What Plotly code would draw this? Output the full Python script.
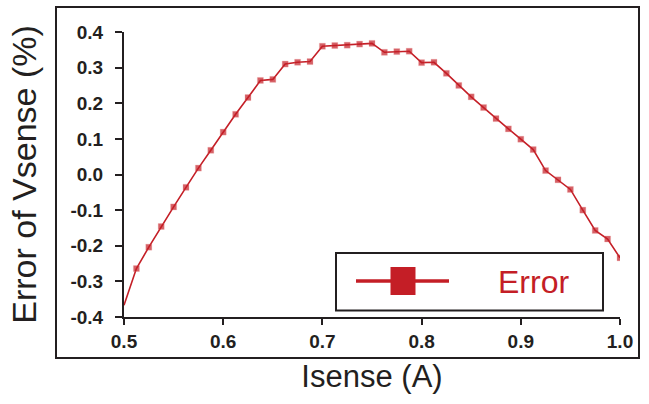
import plotly.graph_objects as go

isense = [0.5000, 0.5125, 0.5250, 0.5375, 0.5500, 0.5625, 0.5750, 0.5875,
          0.6000, 0.6125, 0.6250, 0.6375, 0.6500, 0.6625, 0.6750, 0.6875,
          0.7000, 0.7125, 0.7250, 0.7375, 0.7500, 0.7625, 0.7750, 0.7875,
          0.8000, 0.8125, 0.8250, 0.8375, 0.8500, 0.8625, 0.8750, 0.8875,
          0.9000, 0.9125, 0.9250, 0.9375, 0.9500, 0.9625, 0.9750, 0.9875,
          1.0000]
error_pct = [-0.367, -0.264, -0.204, -0.146, -0.091, -0.036, 0.018, 0.068,
             0.119, 0.169, 0.216, 0.264, 0.267, 0.310, 0.315, 0.317,
             0.360, 0.362, 0.363, 0.366, 0.368, 0.343, 0.345, 0.346,
             0.314, 0.315, 0.284, 0.250, 0.218, 0.188, 0.157, 0.128,
             0.099, 0.070, 0.011, -0.015, -0.042, -0.100, -0.157, -0.181,
             -0.234]
x_ticks = [0.5, 0.6, 0.7, 0.8, 0.9, 1.0]
x_tick_text = ["0.5", "0.6", "0.7", "0.8", "0.9", "1.0"]
y_ticks = [-0.4, -0.3, -0.2, -0.1, 0.0, 0.1, 0.2, 0.3, 0.4]
y_tick_text = ["-0.4", "-0.3", "-0.2", "-0.1", "0.0", "0.1", "0.2", "0.3", "0.4"]
series_name = "Error"

RED = "#C41E26"
INK = "#231F20"
FONT = "Liberation Sans, Arial, sans-serif"

W, H = 649, 404
ML, MR, MT, MB = 124, 29, 32, 87
PW, PH = W - ML - MR, H - MT - MB


def px(x):
    return (x - ML) / PW


def py(y):
    return (H - MB - y) / PH


sizes = [0] + [6] * (len(isense) - 1)

fig = go.Figure()
fig.add_trace(go.Scatter(
    x=isense, y=error_pct, mode="lines+markers", name=series_name,
    line=dict(color=RED, width=1.6),
    marker=dict(symbol="square", size=sizes, color=RED,
                line=dict(color="rgba(230,120,120,0.6)", width=0.5)),
    showlegend=False, cliponaxis=True,
))

shapes = [
    # outer frame
    dict(type="rect", xref="paper", yref="paper",
         x0=px(56), x1=px(639), y0=py(358), y1=py(7),
         line=dict(color=INK, width=2), fillcolor="rgba(0,0,0,0)", layer="below"),
    # legend box
    dict(type="rect", xref="paper", yref="paper",
         x0=px(336), x1=px(603), y0=py(310.5), y1=py(253),
         line=dict(color=INK, width=2), fillcolor="white"),
    # legend line
    dict(type="line", xref="paper", yref="paper",
         x0=px(356), x1=px(449), y0=py(281), y1=py(281),
         line=dict(color=RED, width=3.5)),
    # legend marker
    dict(type="rect", xref="paper", yref="paper",
         x0=px(390.5), x1=px(415.5), y0=py(295), y1=py(267),
         line=dict(color=RED, width=0), fillcolor=RED),
]

annotations = [
    dict(text=series_name, xref="paper", yref="paper",
         x=px(533), y=py(282), xanchor="center", yanchor="middle",
         showarrow=False, font=dict(family=FONT, size=32, color=RED)),
]

fig.update_layout(
    width=W, height=H,
    margin=dict(l=ML, r=MR, t=MT, b=MB),
    paper_bgcolor="white", plot_bgcolor="white",
    font=dict(family=FONT, color=INK),
    shapes=shapes, annotations=annotations,
    showlegend=False,
)

fig.update_xaxes(
    range=[0.5, 1.0], tickvals=x_ticks, ticktext=x_tick_text,
    showgrid=False, zeroline=False,
    showline=True, linecolor=INK, linewidth=2,
    ticks="outside", ticklen=6, tickwidth=2, tickcolor=INK,
    tickfont=dict(family=FONT, size=19, color=INK, weight="bold"),
    title=dict(text="Isense (A)", font=dict(family=FONT, size=31, color=INK), standoff=15),
)
fig.update_yaxes(
    range=[-0.4, 0.4], tickvals=y_ticks, ticktext=y_tick_text,
    showgrid=False, zeroline=False,
    showline=True, linecolor=INK, linewidth=2,
    ticks="outside", ticklen=7, tickwidth=2, tickcolor=INK,
    ticklabelstandoff=8,
    tickfont=dict(family=FONT, size=19, color=INK, weight="bold"),
    title=dict(text="Error of Vsense (%)", font=dict(family=FONT, size=34, color=INK), standoff=24),
)

fig.write_html(
    "out.html",
    config={"displayModeBar": False},
    post_script="document.body.style.margin='0';document.body.style.overflow='hidden';",
)
